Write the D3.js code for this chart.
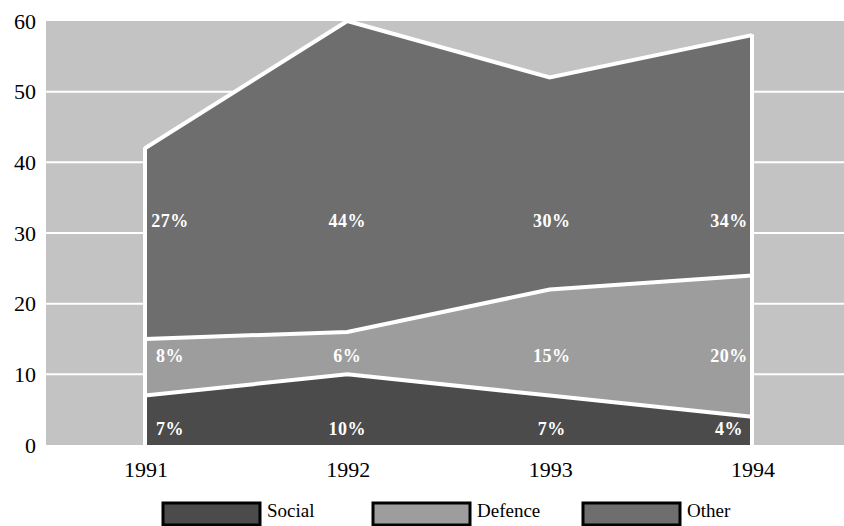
<!DOCTYPE html>
<html><head><meta charset="utf-8">
<script src="https://cdn.jsdelivr.net/npm/d3@7"></script>
<style>body{margin:0;background:#fff}svg{display:block}
svg text{font-family:"Liberation Serif","Times New Roman",Times,"DejaVu Serif",serif;}
</style>
</head><body>
<svg id="c" width="844" height="526"></svg>
<script>
const years = [1991, 1992, 1993, 1994];
const social = [7, 10, 7, 4];
const defence = [8, 6, 15, 20];
const other = [27, 44, 30, 34];
const seriesNames = ["Social", "Defence", "Other"];
const seriesColors = ["#4b4b4b", "#9d9d9d", "#6e6e6e"];
const yTicks = [0, 10, 20, 30, 40, 50, 60];

const svg = d3.select("#c");
const plot = {left: 46, right: 844, top: 21, bottom: 445};
const x = d3.scaleLinear().domain([1991, 1994]).range([145, 752]);
const y = d3.scaleLinear().domain([0, 60]).range([plot.bottom, plot.top]);

svg.append("rect").attr("x", plot.left).attr("y", plot.top)
  .attr("width", plot.right - plot.left).attr("height", plot.bottom - plot.top)
  .attr("fill", "#c3c3c3");

svg.selectAll("line.grid").data(yTicks.filter(d => d > 0 && d < 60)).join("line")
  .attr("class", "grid").attr("x1", plot.left).attr("x2", plot.right)
  .attr("y1", d => y(d)).attr("y2", d => y(d))
  .attr("stroke", "#fff").attr("stroke-width", 2);

const rows = years.map((yr, i) => ({year: yr, Social: social[i], Defence: defence[i], Other: other[i]}));
const stack = d3.stack().keys(seriesNames)(rows);

const area = d3.area().x(d => x(d.data.year)).y0(d => y(d[0])).y1(d => y(d[1]));
svg.selectAll("path.area").data(stack).join("path")
  .attr("class", "area").attr("d", area).attr("fill", (d, i) => seriesColors[i]);

const line = d3.line().x(d => x(d.data.year)).y(d => y(d[1]));
svg.selectAll("path.edge").data(stack).join("path")
  .attr("class", "edge").attr("d", line).attr("fill", "none")
  .attr("stroke", "#fff").attr("stroke-width", 4).attr("stroke-linejoin", "miter");

// side edges
const topSeries = stack[stack.length - 1];
[0, years.length - 1].forEach(i => {
  svg.append("line").attr("x1", x(years[i])).attr("x2", x(years[i]))
    .attr("y1", y(0)).attr("y2", y(topSeries[i][1]) - 1)
    .attr("stroke", "#fff").attr("stroke-width", 4);
});

// percentage labels
const labelLevels = [2.3, 12.7, 31.7];
const xOffsets = [25, 0, 2, -23];
stack.forEach((s, si) => {
  svg.selectAll("text.p" + si).data(s).join("text")
    .attr("class", "p" + si)
    .attr("x", (d, i) => x(d.data.year) + xOffsets[i])
    .attr("y", y(labelLevels[si]))
    .attr("dy", "0.35em")
    .attr("text-anchor", "middle")
    .attr("font-weight", "bold")
    .attr("font-size", 18).attr("letter-spacing", 0.5).attr("fill", "#fff")
    .text(d => (d[1] - d[0]) + "%");
});

// y axis labels
svg.selectAll("text.yt").data(yTicks).join("text")
  .attr("class", "yt")
  .attr("x", 36).attr("y", d => y(d)).attr("dy", "0.35em")
  .attr("text-anchor", "end")
  .attr("font-size", 22).attr("fill", "#000").text(d => d);

// x axis labels
svg.selectAll("text.xt").data(years).join("text")
  .attr("class", "xt")
  .attr("x", d => x(d) + 1).attr("y", 477)
  .attr("text-anchor", "middle")
  .attr("font-size", 22).attr("fill", "#000").text(d => d);

// legend
const legX = [163, 373, 583];
const lg = svg.selectAll("g.leg").data(seriesNames).join("g")
  .attr("class", "leg")
  .attr("transform", (d, i) => `translate(${legX[i]},503)`);
lg.append("rect").attr("width", 97).attr("height", 22)
  .attr("fill", (d, i) => seriesColors[i]).attr("stroke", "#000").attr("stroke-width", 3);
lg.append("text").attr("x", 104).attr("y", 14)
  .attr("font-size", 19)
  .attr("fill", "#000").text(d => d);
</script>
</body></html>
